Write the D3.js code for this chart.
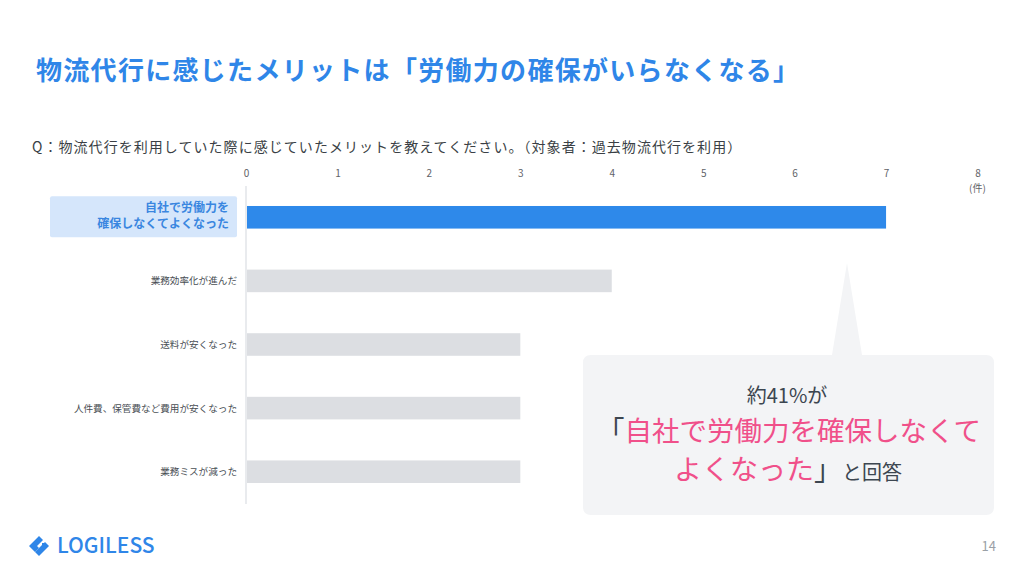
<!DOCTYPE html>
<html><head><meta charset="utf-8">
<script src="https://cdn.jsdelivr.net/npm/d3@7"></script>
<style>body{margin:0;background:#fff}svg{display:block}text{font-family:"Noto Sans CJK JP","Noto Sans",sans-serif}</style>
</head><body><svg id="c" width="1024" height="576"></svg>
<script>
const categories = ["自社で労働力を\n確保しなくてよくなった","業務効率化が進んだ","送料が安くなった","人件費、保管費など費用が安くなった","業務ミスが減った"];
const values = [7,4,3,3,3];
const ticks = [0,1,2,3,4,5,6,7,8];
const unitLabel = "(件)";
const titleText = "物流代行に感じたメリットは「労働力の確保がいらなくなる」";
const questionText = "Q：物流代行を利用していた際に感じていたメリットを教えてください。（対象者：過去物流代行を利用）";

const svg = d3.select("#c");
const FONT = '"Noto Sans CJK JP","Noto Sans",sans-serif';

svg.append("text").attr("x",36).attr("y",80).attr("font-size",26).attr("font-weight",700)
  .attr("fill","#2f86e8").attr("letter-spacing","1.3").text(titleText);
svg.append("text").attr("x",32).attr("y",152).attr("font-size",14).attr("fill","#3a3f45")
  .attr("letter-spacing","1.05").text(questionText);

const x = d3.scaleLinear().domain([0,8]).range([246,977.5]);
const y = d3.scaleBand().domain(categories).range([185,504]).paddingInner(0.645).paddingOuter(0.33);

// axis line
svg.append("line").attr("x1",x(0)).attr("x2",x(0)).attr("y1",186).attr("y2",504)
  .attr("stroke","#e9ebee").attr("stroke-width",2);

// top axis
const ax = svg.append("g").attr("transform","translate(0,177)")
  .call(d3.axisTop(x).tickValues(ticks).tickSize(0).tickPadding(0).tickFormat(d3.format("d")));
ax.select(".domain").remove();
ax.selectAll("text").attr("font-size",10).attr("fill","#5f6368").attr("font-family",FONT);
svg.append("text").attr("x",x(8)).attr("y",192).attr("text-anchor","middle").attr("font-size",10)
  .attr("fill","#5f6368").text(unitLabel);

// highlight label box
svg.append("rect").attr("x",50).attr("y",y(categories[0])+y.bandwidth()/2-21).attr("width",187).attr("height",41)
  .attr("rx",2).attr("fill","#d5e6fb");

// bars
svg.selectAll(".bar").data(values).enter().append("rect")
  .attr("x",x(0)+1).attr("y",(d,i)=>y(categories[i]))
  .attr("width",d=>x(d)-x(0)-1).attr("height",y.bandwidth())
  .attr("fill",(d,i)=>i===0?"#2e89ea":"#dcdee2");

// labels
categories.forEach((c,i)=>{
  const cy = y(c)+y.bandwidth()/2;
  const lines = c.split("\n");
  if(i===0){
    lines.forEach((l,j)=>svg.append("text").attr("text-anchor","end").attr("font-size",12).attr("font-weight",700)
      .attr("fill","#3a86e0").attr("x",229).attr("y",cy-5+j*15.5).text(l));
  } else {
    svg.append("text").attr("x",237).attr("y",cy+3.5).attr("text-anchor","end").attr("font-size",9.6)
      .attr("fill","#4a4f55").text(c);
  }
});

// callout
const g = svg.append("g");
g.append("path").attr("d","M583,363 Q583,355 591,355 L832,355 L847,263 L862,355 L986,355 Q994,355 994,363 L994,507 Q994,515 986,515 L591,515 Q583,515 583,507 Z")
  .attr("fill","#f3f4f6");
g.append("text").attr("x",787).attr("y",403).attr("text-anchor","middle").attr("font-size",20).attr("fill","#3c4650").text("約41%が");
const l2 = g.append("text").attr("x",789).attr("y",441).attr("text-anchor","middle").attr("font-size",27.5);
l2.append("tspan").attr("fill","#3c4650").text("「");
l2.append("tspan").attr("fill","#f0508a").text("自社で労働力を確保しなくて");
const l3 = g.append("text").attr("x",788).attr("y",480).attr("text-anchor","middle");
l3.append("tspan").attr("font-size",28).attr("fill","#f0508a").text("よくなった");
l3.append("tspan").attr("font-size",28).attr("fill","#3c4650").text("」");
l3.append("tspan").attr("font-size",20).attr("fill","#3c4650").text("と回答");

// logo
const lg = svg.append("g").attr("transform","translate(39,546)");
lg.append("path").attr("d","M-10,0 L0,-10 L4,-6 L-2,0 L0,2 L-4,6 Z").attr("fill","#2f86e8");
lg.append("path").attr("d","M-4,6 L0,10 L10,0 L6,-4 L0,2 Z").attr("fill","#2f86e8");
lg.append("rect").attr("x",3).attr("y",-3).attr("width",3.5).attr("height",3.5).attr("fill","#2f86e8");
svg.append("text").attr("x",57).attr("y",553).attr("font-family","Roboto,sans-serif").attr("font-size",21).attr("font-weight",500)
  .attr("fill","#2f86e8").text("LOGILESS");
svg.append("text").attr("x",996).attr("y",551).attr("text-anchor","end").attr("font-family","Roboto,sans-serif").attr("font-size",13).attr("fill","#9aa0a6").text("14");
</script></body></html>
